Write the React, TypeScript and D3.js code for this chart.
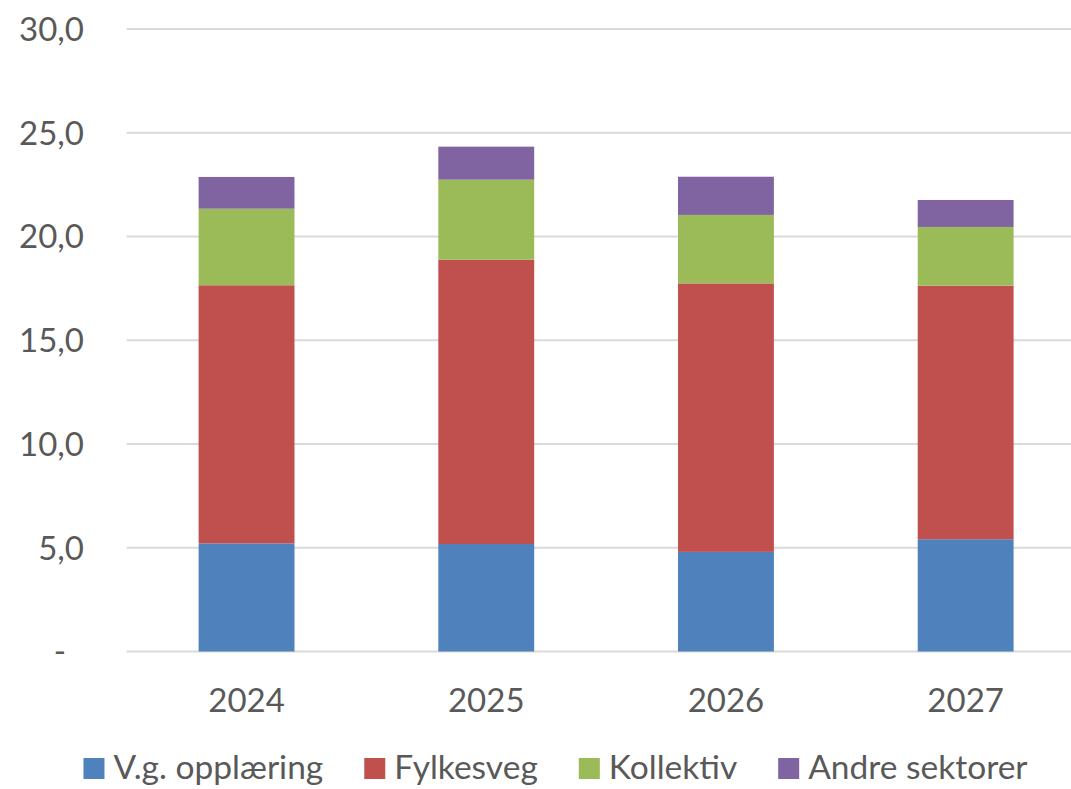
import React, { useEffect, useRef } from "react";
import * as d3 from "d3";

const years = ["2024", "2025", "2026", "2027"];
const seriesNames = ["V.g. opplæring", "Fylkesveg", "Kollektiv", "Andre sektorer"];
const seriesColors = ["#4F81BD", "#C0504D", "#9BBB59", "#8064A2"];
const vgOpplaering = [5.21, 5.18, 4.8, 5.41];
const fylkesveg = [12.44, 13.7, 12.94, 12.22];
const kollektiv = [3.69, 3.86, 3.3, 2.83];
const andreSektorer = [1.53, 1.59, 1.84, 1.3];
const yTicks = [0, 5, 10, 15, 20, 25, 30];

const W = 1071;
const H = 789;
const FONT = "Lato, 'Open Sans', sans-serif";
const TEXT = "#595959";

export default function App() {
  const ref = useRef<SVGSVGElement | null>(null);

  useEffect(() => {
    document.body.style.margin = "0";
    const svg = d3.select(ref.current);
    svg.selectAll("*").remove();

    const left = 126.7;
    const right = 1085.5;
    const top = 29;
    const bottom = 651.5;

    const x = d3.scaleBand<string>().domain(years).range([left, right]).paddingInner(0.6).paddingOuter(0.3);
    const y = d3.scaleLinear().domain([0, 30]).range([bottom, top]);

    const rows = years.map((yr, i) => ({
      year: yr,
      s0: vgOpplaering[i],
      s1: fylkesveg[i],
      s2: kollektiv[i],
      s3: andreSektorer[i],
    }));
    const stack = d3.stack<any>().keys(["s0", "s1", "s2", "s3"]);
    const layers = stack(rows);

    // gridlines
    svg.append("g")
      .selectAll("line")
      .data(yTicks)
      .join("line")
      .attr("x1", left)
      .attr("x2", W)
      .attr("y1", (d) => y(d))
      .attr("y2", (d) => y(d))
      .attr("stroke", "#D9D9D9")
      .attr("stroke-width", 2);

    // y labels
    svg.append("g")
      .selectAll("text")
      .data(yTicks)
      .join("text")
      .attr("x", (d) => (d === 0 ? 66 : 84))
      .attr("y", (d) => y(d))
      .attr("dy", "0.36em")
      .attr("text-anchor", "end")
      .attr("font-family", FONT)
      .attr("font-size", 33)
      .attr("fill", TEXT)
      .text((d) => (d === 0 ? "-" : d3.format(".1f")(d).replace(".", ",")));

    // bars
    svg.append("g")
      .selectAll("g")
      .data(layers)
      .join("g")
      .attr("fill", (_, i) => seriesColors[i])
      .selectAll("rect")
      .data((d) => d)
      .join("rect")
      .attr("x", (d: any) => x(d.data.year)!)
      .attr("width", x.bandwidth())
      .attr("y", (d) => y(d[1]))
      .attr("height", (d) => y(d[0]) - y(d[1]));

    // x labels
    svg.append("g")
      .selectAll("text")
      .data(years)
      .join("text")
      .attr("x", (d) => x(d)! + x.bandwidth() / 2)
      .attr("y", 711.5)
      .attr("text-anchor", "middle")
      .attr("font-family", FONT)
      .attr("font-size", 33)
      .attr("fill", TEXT)
      .text((d) => d);

    // legend
    const lg = svg.append("g");
    const sq = 21;
    const gapText = 9;
    const gapItem = 41;
    const items = seriesNames.map((name, i) => {
      const g = lg.append("g");
      g.append("rect").attr("width", sq).attr("height", sq).attr("y", 758).attr("fill", seriesColors[i]);
      const t = g.append("text")
        .attr("x", sq + gapText)
        .attr("y", 779.3)
        .attr("font-family", FONT)
        .attr("font-size", 33.5)
        .attr("fill", TEXT)
        .text(name);
      const w = (t.node() as SVGTextElement).getComputedTextLength();
      return { g, w: sq + gapText + w };
    });
    const total = d3.sum(items, (d) => d.w) + gapItem * (items.length - 1);
    let cx = 555.5 - total / 2;
    items.forEach((it) => {
      it.g.attr("transform", `translate(${cx},0)`);
      cx += it.w + gapItem;
    });
  }, []);

  return (
    <svg
      ref={ref}
      width={W}
      height={H}
      style={{ display: "block", position: "absolute", left: 0, top: 0, background: "#fff" }}
    />
  );
}
